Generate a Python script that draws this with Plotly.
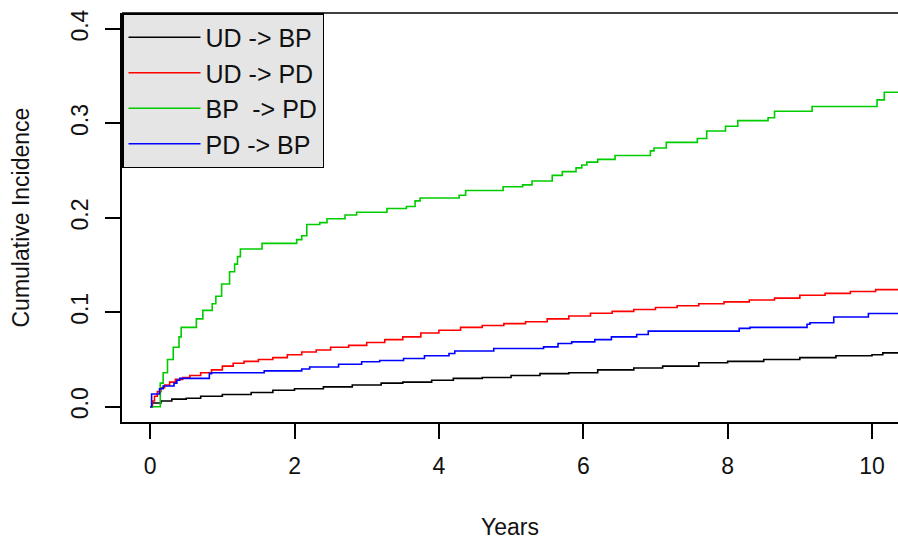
import plotly.graph_objects as go

# ---- data ----
series_names = ["UD -> BP", "UD -> PD", "BP  -> PD", "PD -> BP"]
series_colors = ["#000000", "#FF0000", "#00CC00", "#0000FF"]

t_ud_bp = [0, 0.03, 0.15, 0.3, 0.5, 0.7, 1.0, 1.4, 1.7, 2.0, 2.4, 2.8, 3.2, 3.5, 3.9, 4.2, 4.6, 5.0,
           5.4, 5.8, 6.2, 6.7, 7.1, 7.6, 8.0, 8.5, 9.0, 9.5, 10.0, 10.15, 10.45]
ci_ud_bp = [0, 0.004, 0.006, 0.008, 0.009, 0.011, 0.013, 0.015, 0.0175, 0.019, 0.021, 0.023, 0.025,
            0.026, 0.028, 0.030, 0.031, 0.033, 0.035, 0.036, 0.039, 0.041, 0.043, 0.0465, 0.048,
            0.050, 0.052, 0.054, 0.055, 0.057, 0.057]

t_ud_pd = [0, 0.03, 0.06, 0.1, 0.15, 0.2, 0.27, 0.35, 0.45, 0.55, 0.7, 0.85, 1.0, 1.15, 1.3, 1.5,
           1.7, 1.9, 2.1, 2.3, 2.5, 2.75, 3.0, 3.25, 3.5, 3.75, 4.0, 4.3, 4.6, 4.9, 5.2, 5.5, 5.8,
           6.1, 6.4, 6.7, 7.0, 7.3, 7.6, 7.95, 8.3, 8.65, 9.0, 9.35, 9.7, 10.05, 10.45]
ci_ud_pd = [0, 0.006, 0.011, 0.016, 0.020, 0.023, 0.026, 0.029, 0.031, 0.033, 0.036, 0.039, 0.043,
            0.046, 0.048, 0.050, 0.052, 0.055, 0.058, 0.060, 0.063, 0.065, 0.068, 0.071, 0.074,
            0.078, 0.081, 0.084, 0.086, 0.088, 0.090, 0.093, 0.096, 0.099, 0.101, 0.103, 0.105,
            0.107, 0.109, 0.111, 0.113, 0.115, 0.118, 0.120, 0.122, 0.124, 0.126]

t_bp_pd = [0, 0.14, 0.18, 0.24, 0.32, 0.40, 0.43, 0.64, 0.73, 0.86, 0.91, 0.99, 1.10, 1.17, 1.21,
           1.25, 1.55, 2.03, 2.10, 2.17, 2.35, 2.45, 2.70, 2.86, 3.28, 3.55, 3.67, 3.74, 4.28, 4.37,
           4.89, 5.16, 5.29, 5.57, 5.71, 5.90, 5.98, 6.05, 6.20, 6.44, 6.93, 6.98, 7.15, 7.58, 7.71,
           7.97, 8.14, 8.56, 8.65, 9.17, 10.07, 10.17, 10.45]
ci_bp_pd = [0, 0.025, 0.036, 0.050, 0.063, 0.074, 0.084, 0.093, 0.102, 0.109, 0.117, 0.130, 0.143,
            0.151, 0.159, 0.167, 0.173, 0.177, 0.181, 0.193, 0.195, 0.199, 0.203, 0.206, 0.210,
            0.212, 0.218, 0.221, 0.224, 0.229, 0.233, 0.235, 0.239, 0.245, 0.249, 0.253, 0.256,
            0.259, 0.262, 0.266, 0.271, 0.274, 0.280, 0.284, 0.292, 0.297, 0.303, 0.306, 0.313,
            0.318, 0.325, 0.333, 0.333]

t_pd_bp = [0, 0.02, 0.13, 0.18, 0.33, 0.37, 0.41, 0.82, 0.85, 1.58, 2.10, 2.21, 2.61, 2.93, 3.18,
           3.51, 3.80, 4.14, 4.22, 4.76, 5.45, 5.65, 5.84, 6.16, 6.39, 6.74, 6.90, 8.16, 8.31, 9.10,
           9.14, 9.47, 9.95, 10.45]
ci_pd_bp = [0, 0.0134, 0.019, 0.022, 0.025, 0.028, 0.030, 0.035, 0.036, 0.038, 0.040, 0.042,
            0.045, 0.0476, 0.049, 0.051, 0.054, 0.0564, 0.059, 0.0617, 0.0634, 0.067, 0.0687,
            0.071, 0.074, 0.0765, 0.080, 0.083, 0.084, 0.0874, 0.089, 0.095, 0.0987, 0.0987]

x_ticks = [0, 2, 4, 6, 8, 10]
y_ticks = [0.0, 0.1, 0.2, 0.3, 0.4]
y_ticktext = ["0.0", "0.1", "0.2", "0.3", "0.4"]

times = [t_ud_bp, t_ud_pd, t_bp_pd, t_pd_bp]
values = [ci_ud_bp, ci_ud_pd, ci_bp_pd, ci_pd_bp]

FONT = "Liberation Sans, Arial, sans-serif"
FS = 23
LEG_FS = 25

fig = go.Figure()
for name, col, t, v in zip(series_names, series_colors, times, values):
    fig.add_trace(go.Scatter(x=t, y=v, mode="lines", name=name,
                             line=dict(color=col, width=1.6, shape="hv")))

fig.update_layout(
    width=898, height=540,
    margin=dict(l=122, r=0, t=13, b=118),
    paper_bgcolor="white", plot_bgcolor="white",
    font=dict(family=FONT, size=FS, color="#111111"),
    showlegend=True,
    legend=dict(x=0, y=1, xanchor="left", yanchor="top",
                bgcolor="#E5E5E5", bordercolor="#000000", borderwidth=1.5,
                font=dict(family=FONT, size=LEG_FS, color="#111111"),
                itemwidth=72, tracegroupgap=0),
    xaxis=dict(range=[-0.39, 10.36], tickvals=x_ticks, ticks="outside", ticklen=15,
               tickwidth=1.5, tickcolor="#000000", showgrid=False, zeroline=False,
               showline=True, linecolor="#000000", linewidth=1.5, mirror=False,
               ticklabelstandoff=8),
    yaxis=dict(range=[-0.0162, 0.417], tickvals=y_ticks, ticktext=y_ticktext,
               ticks="outside", ticklen=15, tickwidth=1.5, tickcolor="#000000",
               showgrid=False, zeroline=False, showline=True, linecolor="#000000",
               linewidth=1.5, mirror=False, tickangle=-90, ticklabelstandoff=8),
    annotations=[
        dict(text="Years", xref="paper", yref="paper", x=0.5, y=0, yshift=-105,
             showarrow=False, xanchor="center", yanchor="middle",
             font=dict(family=FONT, size=FS, color="#111111")),
        dict(text="Cumulative Incidence", xref="paper", yref="paper", x=0, y=0.5,
             xshift=-102, textangle=-90, showarrow=False, xanchor="center",
             yanchor="middle", font=dict(family=FONT, size=FS, color="#111111")),
    ],
    shapes=[dict(type="line", xref="paper", yref="paper", x0=0, x1=1, y0=1, y1=1,
                 line=dict(color="#000000", width=1.5))],
)

fig.write_html("out.html")
